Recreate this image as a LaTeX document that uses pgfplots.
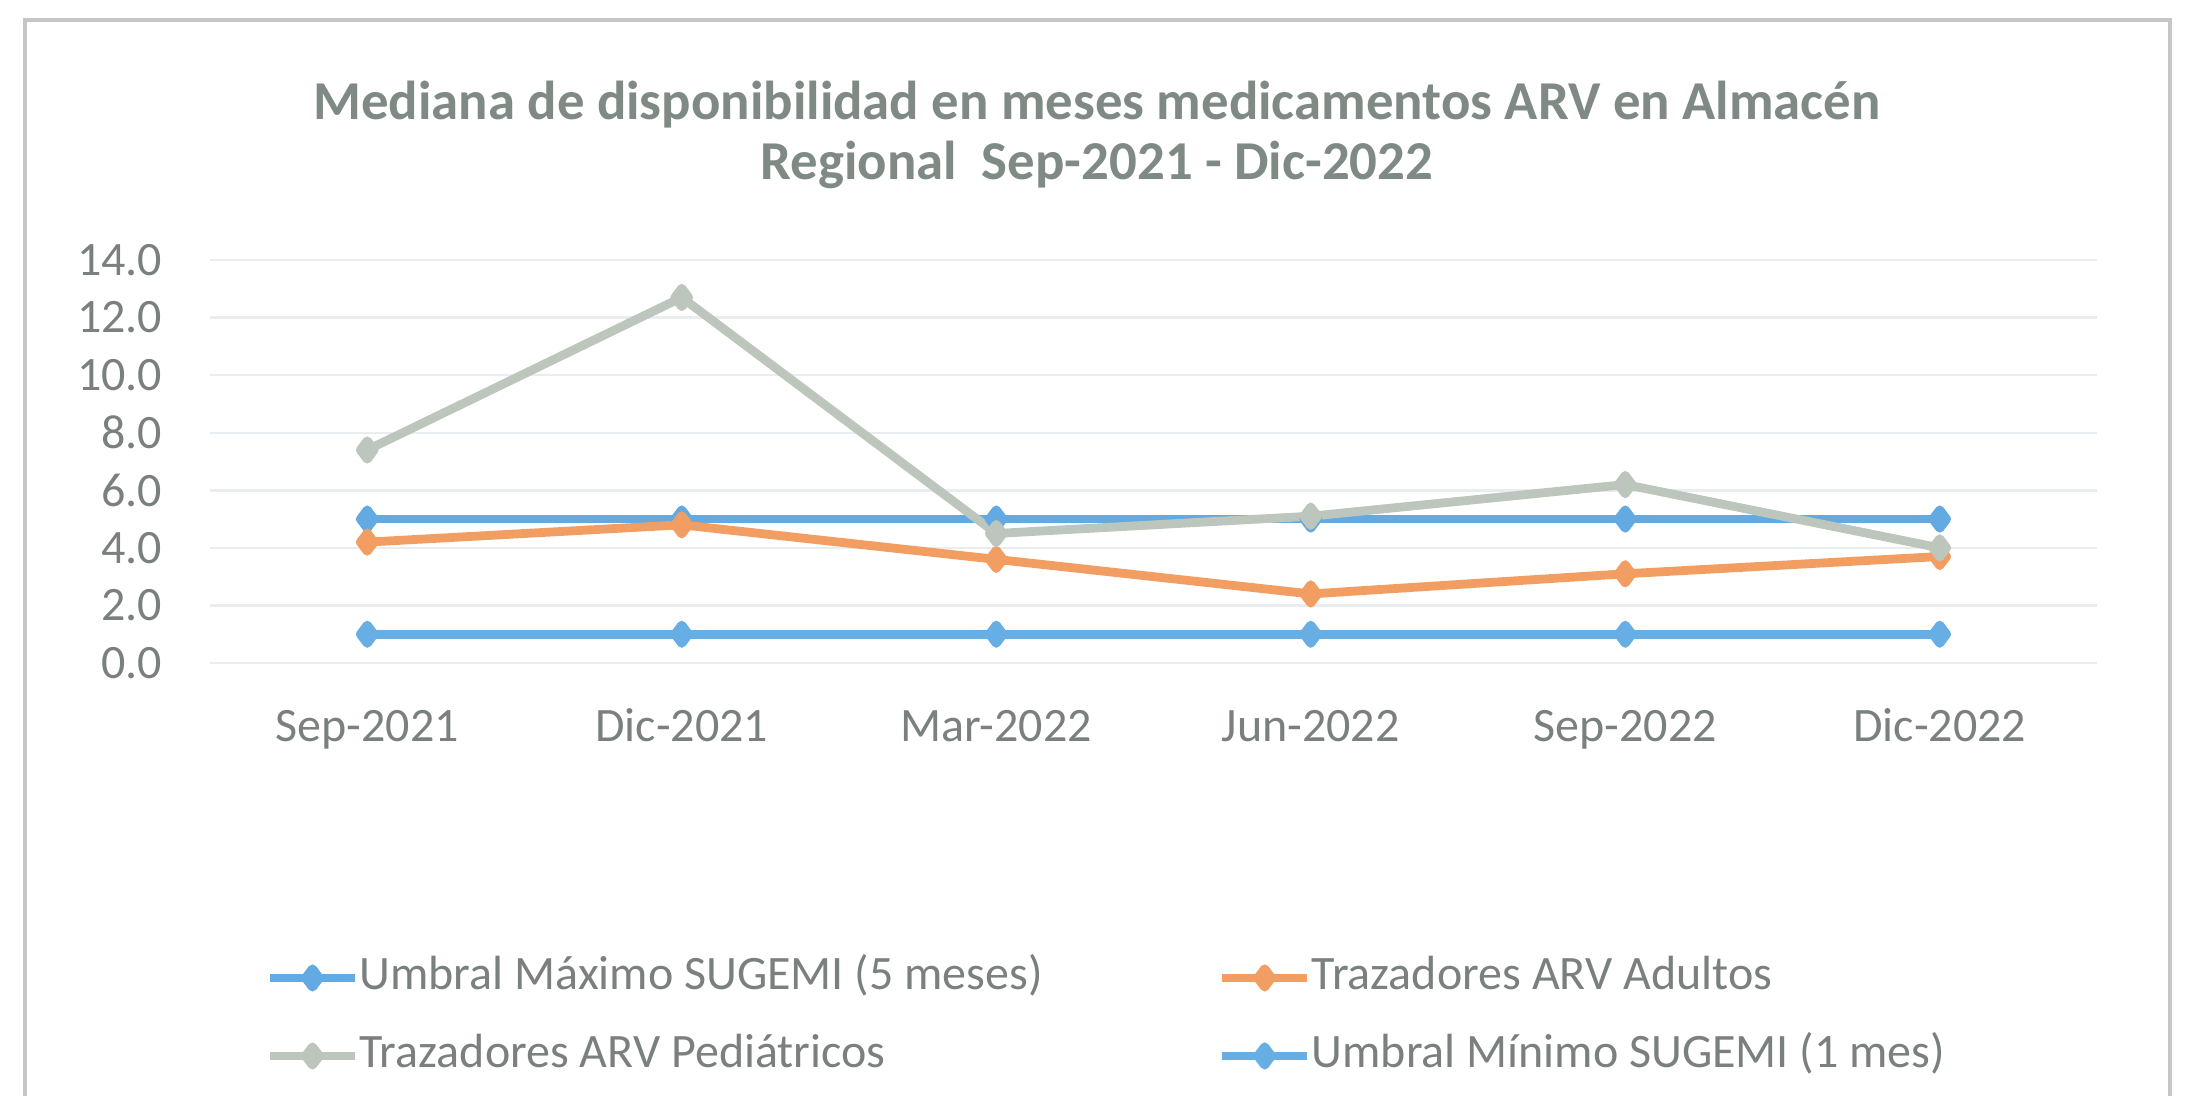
\documentclass[border=0pt]{standalone}
\usepackage{pgfplots}
\pgfplotsset{compat=1.18}
\usepackage{fontspec}
\setmainfont{Carlito}
\definecolor{maxblue}{RGB}{98,170,225}
\definecolor{minblue}{RGB}{102,174,228}
\definecolor{adorange}{RGB}{242,158,98}
\definecolor{pedgray}{RGB}{188,198,188}
\definecolor{txtgray}{RGB}{122,128,126}
\definecolor{titlegray}{RGB}{128,138,133}
\definecolor{gridgray}{RGB}{234,237,240}
\begin{document}
\begin{tikzpicture}
\useasboundingbox (0,0) rectangle (549.75pt,-273.75pt);
\begin{axis}[
  at={(52.5pt,-165.75pt)}, anchor=south west,
  scale only axis, width=471.75pt, height=100.75pt,
  xmin=-0.5, xmax=5.5, ymin=0, ymax=14,
  xtick={0,1,2,3,4,5},
  xticklabels={Sep-2021,Dic-2021,Mar-2022,Jun-2022,Sep-2022,Dic-2022},
  ytick={0,2,4,6,8,10,12,14},
  /pgf/number format/assume math mode=true,
  yticklabel style={/pgf/number format/.cd, fixed, fixed zerofill, precision=1, /tikz/.cd,
    anchor=east, inner sep=0pt, xshift=-11.75pt},
  xticklabel style={anchor=base, inner sep=0pt, yshift=-19.5pt},
  ticklabel style={font=\fontsize{12}{14}\selectfont, text=txtgray},
  major tick length=0pt,
  axis line style={draw=none},
  ymajorgrids, grid style={gridgray, line width=0.6pt},
  title={Mediana de disponibilidad en meses medicamentos ARV en Almacén\\Regional\ \ Sep-2021 - Dic-2022},
  title style={at={(axis description cs:0.470,1.250)}, anchor=center, align=center, inner sep=0pt,
    font=\fontsize{13.7}{15}\selectfont\bfseries, text=titlegray},
  legend columns=2,
  legend style={draw=none, fill=none, at={(axis description cs:0.0291,-0.720)}, anchor=north west,
    inner sep=0pt, row sep=7.5pt, font=\fontsize{12}{14}\selectfont, text=txtgray,
    nodes={inner sep=0pt, text height=9pt, text depth=3pt},
    cells={anchor=west},
    /tikz/every even column/.append style={column sep=43.75pt}},
  legend image code/.code={\draw[#1, mark repeat=2, mark phase=2] plot coordinates {(0pt,0pt)(10.6pt,0pt)(21.25pt,0pt)};},
  every axis plot/.append style={line width=2.2pt, mark=diamond*, mark size=2.3pt, line join=round},
]
\addplot[color=maxblue, mark options={fill=maxblue}] coordinates {(0,5.0) (1,5.0) (2,5.0) (3,5.0) (4,5.0) (5,5.0)};
\addlegendentry{Umbral Máximo SUGEMI (5 meses)}
\addplot[color=adorange, mark options={fill=adorange}] coordinates {(0,4.2) (1,4.8) (2,3.6) (3,2.4) (4,3.1) (5,3.7)};
\addlegendentry{Trazadores ARV Adultos}
\addplot[color=pedgray, mark options={fill=pedgray}] coordinates {(0,7.4) (1,12.7) (2,4.5) (3,5.1) (4,6.2) (5,4.0)};
\addlegendentry{Trazadores ARV Pediátricos}
\addplot[color=minblue, mark options={fill=minblue}] coordinates {(0,1.0) (1,1.0) (2,1.0) (3,1.0) (4,1.0) (5,1.0)};
\addlegendentry{Umbral Mínimo SUGEMI (1 mes)}
\end{axis}
\draw[gray!45, line width=1pt] (6.25pt,-290pt) -- (6.25pt,-5pt) -- (542.5pt,-5pt) -- (542.5pt,-290pt);
\end{tikzpicture}
\end{document}
